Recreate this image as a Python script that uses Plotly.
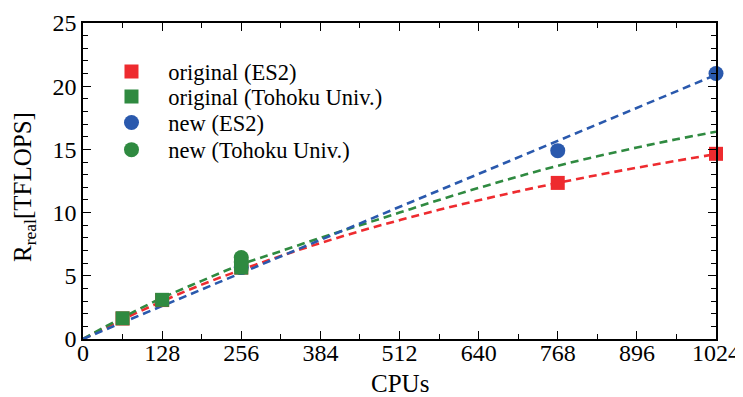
import plotly.graph_objects as go

# ---- data ----
orig_es2_x = [64, 128, 256, 768, 1024]
orig_es2_y = [1.62, 3.08, 5.65, 12.35, 14.65]

orig_tohoku_x = [64, 128, 256, 256]
orig_tohoku_y = [1.64, 3.1, 5.65, 5.9]

new_es2_x = [256, 768, 1024]
new_es2_y = [5.65, 14.9, 21.0]

new_tohoku_x = [256, 256]
new_tohoku_y = [6.45, 6.1]

fit_x = [0, 64, 128, 192, 256, 320, 384, 448, 512, 576, 640, 704, 768, 832, 896, 960, 1024]
fit_orig_es2 = [0, 1.55, 2.98, 4.3, 5.47, 6.57, 7.59, 8.53, 9.4, 10.22, 10.97, 11.68, 12.35, 12.97, 13.55, 14.1, 14.63]
fit_tohoku = [0, 1.7, 3.25, 4.6, 5.9, 6.95, 8.0, 9.0, 10.0, 11.0, 11.95, 12.85, 13.7, 14.45, 15.15, 15.8, 16.4]
fit_new_es2_x = [0, 1024]
fit_new_es2 = [0, 20.9]

x_ticks = [0, 128, 256, 384, 512, 640, 768, 896, 1024]
y_ticks = [0, 5, 10, 15, 20, 25]

RED = "#ee2b2f"
GREEN = "#2f8a40"
BLUE = "#2a59ad"
FONT = "Liberation Serif"
DASH = "8px,5px"
SP = "\u00a0\u00a0\u00a0"

fig = go.Figure()

# fitted dashed curves
fig.add_trace(go.Scatter(x=fit_x, y=fit_orig_es2, mode="lines", showlegend=False,
                         line=dict(color=RED, width=2.6, dash=DASH, shape="spline")))
fig.add_trace(go.Scatter(x=fit_x, y=fit_tohoku, mode="lines", showlegend=False,
                         line=dict(color=GREEN, width=2.6, dash=DASH, shape="spline")))
fig.add_trace(go.Scatter(x=fit_new_es2_x, y=fit_new_es2, mode="lines", showlegend=False,
                         line=dict(color=BLUE, width=2.6, dash=DASH)))

# markers (each in its own legend box so entries can be spaced like the reference)
fig.add_trace(go.Scatter(x=orig_es2_x, y=orig_es2_y, mode="markers", name=SP + "original (ES2)",
                         legend="legend", cliponaxis=False,
                         marker=dict(symbol="square", size=14, color=RED)))
fig.add_trace(go.Scatter(x=new_es2_x, y=new_es2_y, mode="markers", name=SP + "new (ES2)",
                         legend="legend3", cliponaxis=False,
                         marker=dict(symbol="circle", size=15, color=BLUE)))
fig.add_trace(go.Scatter(x=orig_tohoku_x, y=orig_tohoku_y, mode="markers", name=SP + "original (Tohoku Univ.)",
                         legend="legend2", cliponaxis=False,
                         marker=dict(symbol="square", size=14, color=GREEN)))
fig.add_trace(go.Scatter(x=new_tohoku_x, y=new_tohoku_y, mode="markers", name=SP + "new (Tohoku Univ.)",
                         legend="legend4", cliponaxis=False,
                         marker=dict(symbol="circle", size=15, color=GREEN)))

axis_common = dict(
    showline=True, linecolor="black", linewidth=1.5, mirror="ticks",
    ticks="inside", ticklen=8, tickwidth=1.3, tickcolor="black",
    showgrid=False, zeroline=False, automargin=False,
    tickfont=dict(family=FONT, size=24, color="black"),
)

def leg(ypos):
    return dict(x=0.045, y=ypos, xanchor="left", yanchor="middle",
                bgcolor="rgba(0,0,0,0)", borderwidth=0,
                font=dict(family=FONT, size=22.5, color="black"))

# the page body adds an 8px offset, so the figure is 8px smaller and margins shifted
fig.update_layout(
    width=735, height=389,
    margin=dict(l=75, r=27, t=15, b=58),
    paper_bgcolor="white", plot_bgcolor="white",
    font=dict(family=FONT, color="black"),
    xaxis=dict(range=[0, 1024], tickvals=x_ticks, ticktext=[str(v) for v in x_ticks],
               minor=dict(dtick=64, tick0=0, ticks="inside", ticklen=5, tickwidth=1.2, tickcolor="black"),
               ticklabelstandoff=-9,
               **axis_common),
    yaxis=dict(range=[0, 25], tickvals=y_ticks, ticktext=[str(v) for v in y_ticks],
               minor=dict(dtick=1, tick0=0, ticks="inside", ticklen=5, tickwidth=1.2, tickcolor="black"),
               **axis_common),
    legend=leg(0.845),
    legend2=leg(0.766),
    legend3=leg(0.684),
    legend4=leg(0.598),
    annotations=[
        dict(text="CPUs", xref="paper", yref="paper", x=0.5, y=0, yshift=-44,
             xanchor="center", yanchor="middle", showarrow=False,
             font=dict(family=FONT, size=25, color="black")),
        dict(text="R<sub>real</sub>[TFLOPS]", xref="paper", yref="paper", x=0, y=0.5,
             xshift=-59, yshift=-6, textangle=-90, xanchor="center", yanchor="middle",
             showarrow=False, font=dict(family=FONT, size=25, color="black")),
    ],
)

fig.write_html("out.html")
